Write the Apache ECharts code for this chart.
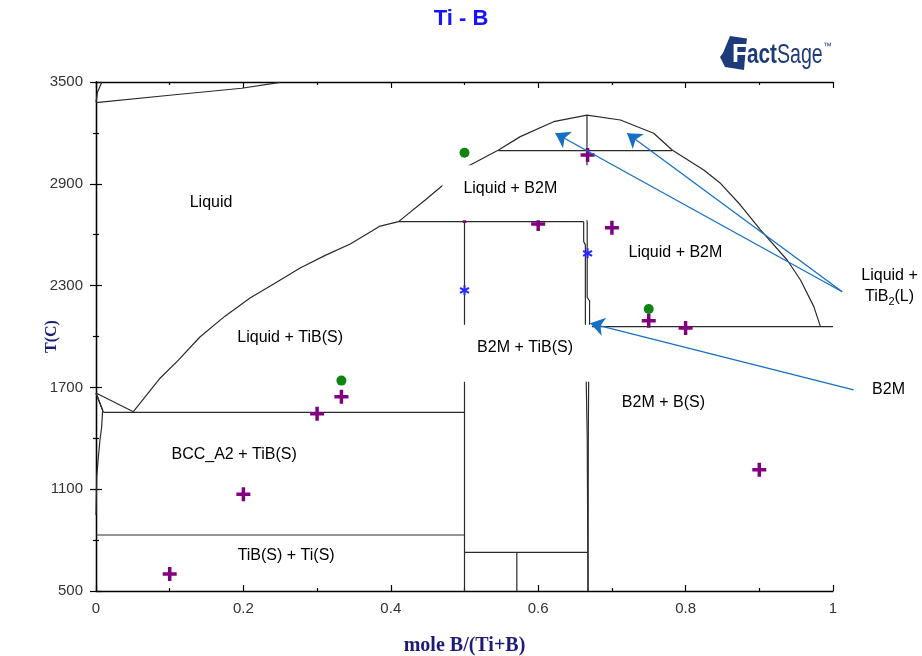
<!DOCTYPE html>
<html>
<head>
<meta charset="utf-8">
<script src="https://cdn.jsdelivr.net/npm/echarts@6/dist/echarts.min.js"></script>
<style>
  html, body { margin: 0; padding: 0; background: #fff; }
  #chart { width: 922px; height: 656px; }
</style>
</head>
<body>
<div id="chart"></div>
<script>
// Ti - B phase diagram: composition (mole B/(Ti+B)) vs temperature (C)

const xTickLabels = ['0', '0.2', '0.4', '0.6', '0.8', '1'];
const yTickLabels = ['500', '1100', '1700', '2300', '2900', '3500'];

// phase boundaries, [x, T]
const gasBoundary = [[0, 3378], [0.10, 3422], [0.1978, 3463], [0.2498, 3498]];
const gasCorner = [[0.008, 3500], [0.002, 3440], [0, 3380]];
const liquidusTi = [[0, 1667], [0.0507, 1557]];
const solidusTi = [[0, 1667], [0.005, 1610], [0.010, 1553]];
const bccSolvus = [[0, 1667], [0.009, 1567], [0.0077, 1468], [0.0054, 1390], [0.003, 1280], [0.001, 1174], [0, 948]];
const liquidusTiB = [
  [0.0507, 1557], [0.0869, 1754], [0.1118, 1861], [0.141, 1997], [0.175, 2120],
  [0.209, 2227], [0.245, 2320], [0.277, 2404], [0.311, 2478], [0.345, 2545],
  [0.3856, 2651], [0.4105, 2677]
];
const liquidusB2M = [
  [0.4105, 2677], [0.4467, 2805], [0.4694, 2887], [0.5033, 3001], [0.5462, 3099],
  [0.5757, 3178], [0.6209, 3266], [0.6662, 3305], [0.7115, 3276], [0.7567, 3198],
  [0.7817, 3099], [0.8246, 2981], [0.8473, 2903], [0.8744, 2775], [0.9016, 2628],
  [0.9378, 2451], [0.9559, 2333], [0.974, 2176], [0.983, 2058]
];
const eutecticTiTiB = [[0.010, 1553], [0.5, 1553]];
const peritecticB2M = [[0.4105, 2677], [0.6617, 2677]];
const monotecticB2M = [[0.546, 3095], [0.7817, 3095]];
const eutecticB2MB = [[0.6717, 2058], [1.0, 2058]];
const congruentB2M = [[0.6662, 3305], [0.6662, 2677]];
const tiBLine = [[0.5, 2677], [0.5, 500]];
const b2mLeft = [[0.6617, 2677], [0.6617, 2560], [0.664, 2540], [0.664, 2100], [0.6653, 1700], [0.6665, 1409], [0.6676, 500]];
const b2mRight = [[0.6665, 2677], [0.6665, 2230], [0.6697, 2210], [0.6697, 2058], [0.6684, 1700], [0.668, 1409], [0.6676, 500]];
const tiTransus = [[0, 830], [0.5, 830]];
const lowInvariant = [[0.5, 728], [0.6676, 728]];
const lowCompound = [[0.571, 728], [0.571, 500]];

const phaseBoundaries = [
  gasBoundary, gasCorner, liquidusTi, solidusTi, bccSolvus, liquidusTiB, liquidusB2M,
  eutecticTiTiB, peritecticB2M, monotecticB2M, eutecticB2MB, congruentB2M, tiBLine,
  b2mLeft, b2mRight, tiTransus, lowInvariant, lowCompound
];

// experimental points
const crossPoints = [
  [0.1, 600], [0.2, 1070], [0.3, 1545], [0.333, 1645], [0.5, 2710], [0.6, 2663],
  [0.667, 3070], [0.7, 2641], [0.75, 2093], [0.8, 2050], [0.9, 1215]
];
const circlePoints = [[0.333, 1740], [0.5, 3083], [0.75, 2162]];
const starPoints = [[0.5, 2272], [0.667, 2490]];

// phase-field labels: [x, T, text]
const fieldLabels = [
  [0.1561, 2787, 'Liquid'],
  [0.5703, 2847, 'Liquid + B2M'],
  [0.7862, 2492, 'Liquid + B2M'],
  [0.2634, 1991, 'Liquid + TiB(S)'],
  [0.5835, 1902, 'B2M + TiB(S)'],
  [0.7699, 1608, 'B2M + B(S)'],
  [0.1874, 1302, 'BCC_A2 + TiB(S)'],
  [0.258, 706, 'TiB(S) + Ti(S)'],
  [1.0767, 2295, 'Liquid +\nTiB{sub|2}(L)'],
  [1.0754, 1690, 'B2M']
];

// annotation arrows: [from, to]
const arrowLines = [
  [[1.0125, 2264], [0.6232, 3198]],
  [[1.0125, 2264], [0.7206, 3198]],
  [[1.028, 1685], [0.6707, 2078]]
];

// labels whose white box covers the boundary lines beneath them
const boxedLabels = {
  1: [14, 33, 23, 21],
  4: [14, 19, 25, 17]
};

const chart = echarts.init(document.getElementById('chart'), null, { renderer: 'canvas' });

const labelFont = 'Liberation Sans, Arial, Helvetica, sans-serif';
const serifFont = 'Liberation Serif, Times New Roman, serif';

function axisCommon(showLabel) {
  return {
    axisLine: { show: true, lineStyle: { color: '#000', width: 1.3 } },
    axisTick: { show: true, inside: true, length: 6, lineStyle: { color: '#000', width: 1.2 } },
    minorTick: { show: true, splitNumber: 2, length: 3, lineStyle: { color: '#000', width: 1.2 } },
    splitLine: { show: false },
    minorSplitLine: { show: false },
    axisLabel: { show: showLabel },
    nameMoveOverlap: false
  };
}

const series = [];

phaseBoundaries.forEach(function (pts) {
  series.push({
    type: 'line',
    data: pts,
    showSymbol: false,
    symbol: 'none',
    silent: true,
    animation: false,
    z: 2,
    lineStyle: { color: '#2a2a2a', width: 1.2 }
  });
});

series.push({
  type: 'scatter',
  data: crossPoints,
  symbol: 'path://M3,0H5V3H8V5H5V8H3V5H0V3H3Z',
  symbolSize: 14,
  itemStyle: { color: '#800080', opacity: 1 },
  silent: true, animation: false, z: 3
});
series.push({
  type: 'scatter',
  data: circlePoints,
  symbol: 'circle',
  symbolSize: 10,
  itemStyle: { color: '#0f840f', opacity: 1 },
  silent: true, animation: false, z: 3
});
series.push({
  type: 'scatter',
  data: starPoints,
  symbol: 'path://M4,0H6V10H4Z M1.17,1.63L9.83,6.63L8.83,8.37L0.17,3.37Z M0.17,6.63L8.83,1.63L9.83,3.37L1.17,8.37Z',
  symbolSize: 10,
  itemStyle: { color: '#2a2aff', opacity: 1 },
  silent: true, animation: false, z: 3
});

series.push({
  type: 'scatter',
  symbolSize: 0,
  silent: true,
  animation: false,
  clip: false,
  z: 4,
  itemStyle: { opacity: 1 },
  data: fieldLabels.map(function (d, i) {
    const lbl = {
      show: true,
      position: 'inside',
      formatter: d[2],
      color: '#000',
      fontSize: 16,
      fontFamily: labelFont,
      lineHeight: 21,
      align: 'center',
      opacity: 1,
      rich: {
        sub: { fontSize: 11, verticalAlign: 'bottom', padding: [8, 0, 0, 0], fontFamily: labelFont, color: '#000' }
      }
    };
    if (boxedLabels[i]) {
      lbl.backgroundColor = '#fff';
      lbl.padding = boxedLabels[i];
      lbl.lineHeight = 18;
    }
    return { value: [d[0], d[1]], label: lbl };
  })
});

series.push({
  type: 'lines',
  coordinateSystem: 'cartesian2d',
  clip: false,
  silent: true,
  animation: false,
  z: 5,
  symbol: ['none', 'arrow'],
  symbolSize: 14,
  lineStyle: { color: '#1570c4', width: 1.3, opacity: 1, curveness: 0 },
  itemStyle: { color: '#1570c4' },
  data: arrowLines.map(function (c) { return { coords: c }; })
});

chart.setOption({
  animation: false,
  backgroundColor: '#fff',
  title: {
    text: 'Ti - B',
    left: 'center',
    top: 3,
    textStyle: { color: '#1414ff', fontSize: 22, fontWeight: 'bold', fontFamily: labelFont }
  },
  grid: { left: 96, right: 89, top: 82, bottom: 65, containLabel: false, outerBoundsMode: 'none' },
  xAxis: [
    Object.assign(axisCommon(true), {
      type: 'value', position: 'bottom', min: 0, max: 1, interval: 0.2,
      name: 'mole B/(Ti+B)', nameLocation: 'middle', nameGap: 45,
      nameTextStyle: { color: '#1c1c78', fontSize: 20, fontWeight: 'bold', fontFamily: serifFont },
      axisLabel: {
        show: true, margin: 10, color: '#333', fontSize: 15, fontFamily: labelFont,
        formatter: function (v) { const k = Math.round(v / 0.2); return xTickLabels[k] !== undefined ? xTickLabels[k] : ''; }
      }
    }),
    Object.assign(axisCommon(false), {
      type: 'value', position: 'top', min: 0, max: 1, interval: 0.2
    })
  ],
  yAxis: [
    Object.assign(axisCommon(true), {
      type: 'value', position: 'left', min: 500, max: 3500, interval: 600,
      name: 'T(C)', nameLocation: 'middle', nameGap: 36, nameRotate: 90,
      nameTextStyle: { color: '#1c1c78', fontSize: 16, fontWeight: 'bold', fontFamily: serifFont },
      axisLabel: {
        show: true, margin: 13, color: '#333', fontSize: 15, fontFamily: labelFont,
        formatter: function (v) { const k = Math.round((v - 500) / 600); return yTickLabels[k] !== undefined ? yTickLabels[k] : ''; }
      }
    }),
    Object.assign(axisCommon(false), {
      type: 'value', position: 'right', min: 500, max: 3500, interval: 600
    })
  ],
  graphic: [
    {
      type: 'group',
      silent: true,
      children: [
        { type: 'polygon', shape: { points: [[730, 36], [747, 38.5], [746, 46], [744, 70], [725, 67], [720, 57], [723, 53]] }, style: { fill: '#1d3b7a' } },
        { type: 'text', x: 732, y: 55, style: { text: 'F', fill: '#fff', font: 'bold 25px Liberation Sans, Arial, sans-serif', verticalAlign: 'middle' } },
        { type: 'text', x: 747, y: 55, scaleX: 0.74, style: { text: 'act', fill: '#1d3b7a', font: 'bold 28px Liberation Sans, Arial, sans-serif', verticalAlign: 'middle' } },
        { type: 'text', x: 777, y: 55, scaleX: 0.7, style: { text: 'Sage', fill: '#1d3b7a', font: '28px Liberation Sans, Arial, sans-serif', verticalAlign: 'middle' } },
        { type: 'text', x: 823, y: 47, style: { text: '\u2122', fill: '#1d3b7a', font: '9px Liberation Sans, Arial, sans-serif', verticalAlign: 'middle' } }
      ]
    }
  ],
  series: series
});
</script>
</body>
</html>
